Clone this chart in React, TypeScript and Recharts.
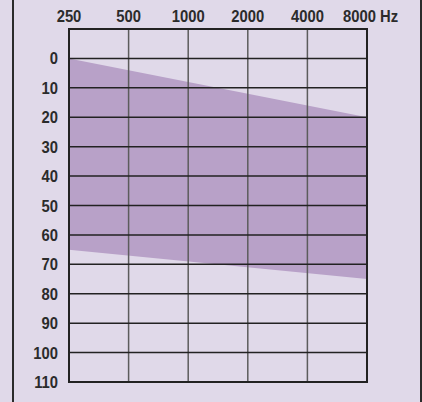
import { ComposedChart, Area, XAxis, YAxis, CartesianGrid, ReferenceArea } from 'recharts';

// audiogram: frequencies on a log scale, placed at equal steps
const FREQS = ['250', '500', '1000', '2000', '4000', '8000'];
const FREQ_STEPS = [0, 1, 2, 3, 4, 5];
const LEVEL_TICKS = [-10, 0, 10, 20, 30, 40, 50, 60, 70, 80, 90, 100, 110];

// shaded band: edges at 250 Hz and 8000 Hz
const BAND_X = [0, 5];
const BAND_TOP = [0, 20];
const BAND_BOTTOM = [65, 75];

const BG = '#e0d9e9';
const BAND = '#b8a1c8';
const INK = '#2b2b2b';
const FONT = "'Liberation Sans', Arial, sans-serif";
const SQUEEZE = 0.87;

const W = 422;
const H = 402;
const MARGIN = { top: 0, right: 55, bottom: 20, left: 0 };

const data = BAND_X.map((x, i) => ({ x, range: [BAND_TOP[i], BAND_BOTTOM[i]] }));

function Label({ x, y, anchor, children }: any) {
  return (
    <text
      transform={`translate(${x},${y}) scale(${SQUEEZE},1)`}
      textAnchor={anchor}
      fill={INK}
      fontFamily={FONT}
      fontWeight="bold"
      fontSize={17}
    >
      {children}
    </text>
  );
}

function FreqTick(props: any) {
  const { x, y, payload } = props;
  const last = payload.value === FREQ_STEPS[FREQ_STEPS.length - 1];
  if (last) {
    return <Label x={x - 24} y={y} anchor="start">{FREQS[payload.value] + ' Hz'}</Label>;
  }
  return <Label x={x} y={y} anchor="middle">{FREQS[payload.value]}</Label>;
}

function LevelTick(props: any) {
  const { x, y, payload } = props;
  if (payload.value < 0) return null;
  return <Label x={x} y={y + 6} anchor="end">{payload.value}</Label>;
}

export default function App() {
  const layer = { position: 'absolute' as const, left: 0, top: 0 };
  return (
    <div style={{ position: 'absolute', left: 0, top: 0, width: W, height: H, background: BG }}>
      <div
        style={{
          position: 'absolute',
          left: 12,
          top: 0,
          width: 406,
          height: H,
          borderLeft: `2px solid ${INK}`,
          borderRight: `2px solid ${INK}`,
        }}
      />
      {/* band underneath */}
      <div style={layer}>
        <ComposedChart width={W} height={H} data={data} margin={MARGIN}>
          <XAxis dataKey="x" type="number" orientation="top" domain={[0, 5]} height={29} axisLine={false} tickLine={false} tick={false} />
          <YAxis type="number" reversed domain={[-10, 110]} width={69} axisLine={false} tickLine={false} tick={false} />
          <Area type="linear" dataKey="range" fill={BAND} fillOpacity={1} stroke="none" isAnimationActive={false} />
        </ComposedChart>
      </div>
      {/* grid, frame and labels on top */}
      <div style={layer}>
        <ComposedChart width={W} height={H} data={data} margin={MARGIN}>
          <XAxis
            dataKey="x"
            type="number"
            orientation="top"
            domain={[0, 5]}
            ticks={FREQ_STEPS}
            height={29}
            axisLine={false}
            tickLine={false}
            tickSize={0}
            tickMargin={7}
            tick={<FreqTick />}
            interval={0}
          />
          <YAxis
            type="number"
            reversed
            domain={[-10, 110]}
            ticks={LEVEL_TICKS}
            width={69}
            axisLine={false}
            tickLine={false}
            tickSize={0}
            tickMargin={11}
            tick={<LevelTick />}
            interval={0}
          />
          <Area type="linear" dataKey="range" fill="none" stroke="none" isAnimationActive={false} />
          <CartesianGrid horizontal={false} stroke="#5c5c5c" strokeWidth={1.5} />
          <CartesianGrid vertical={false} stroke="#222" strokeWidth={1.5} />
          <ReferenceArea x1={0} x2={5} y1={-10} y2={110} fill="none" stroke="#222" strokeWidth={2} ifOverflow="visible" />
        </ComposedChart>
      </div>
    </div>
  );
}
